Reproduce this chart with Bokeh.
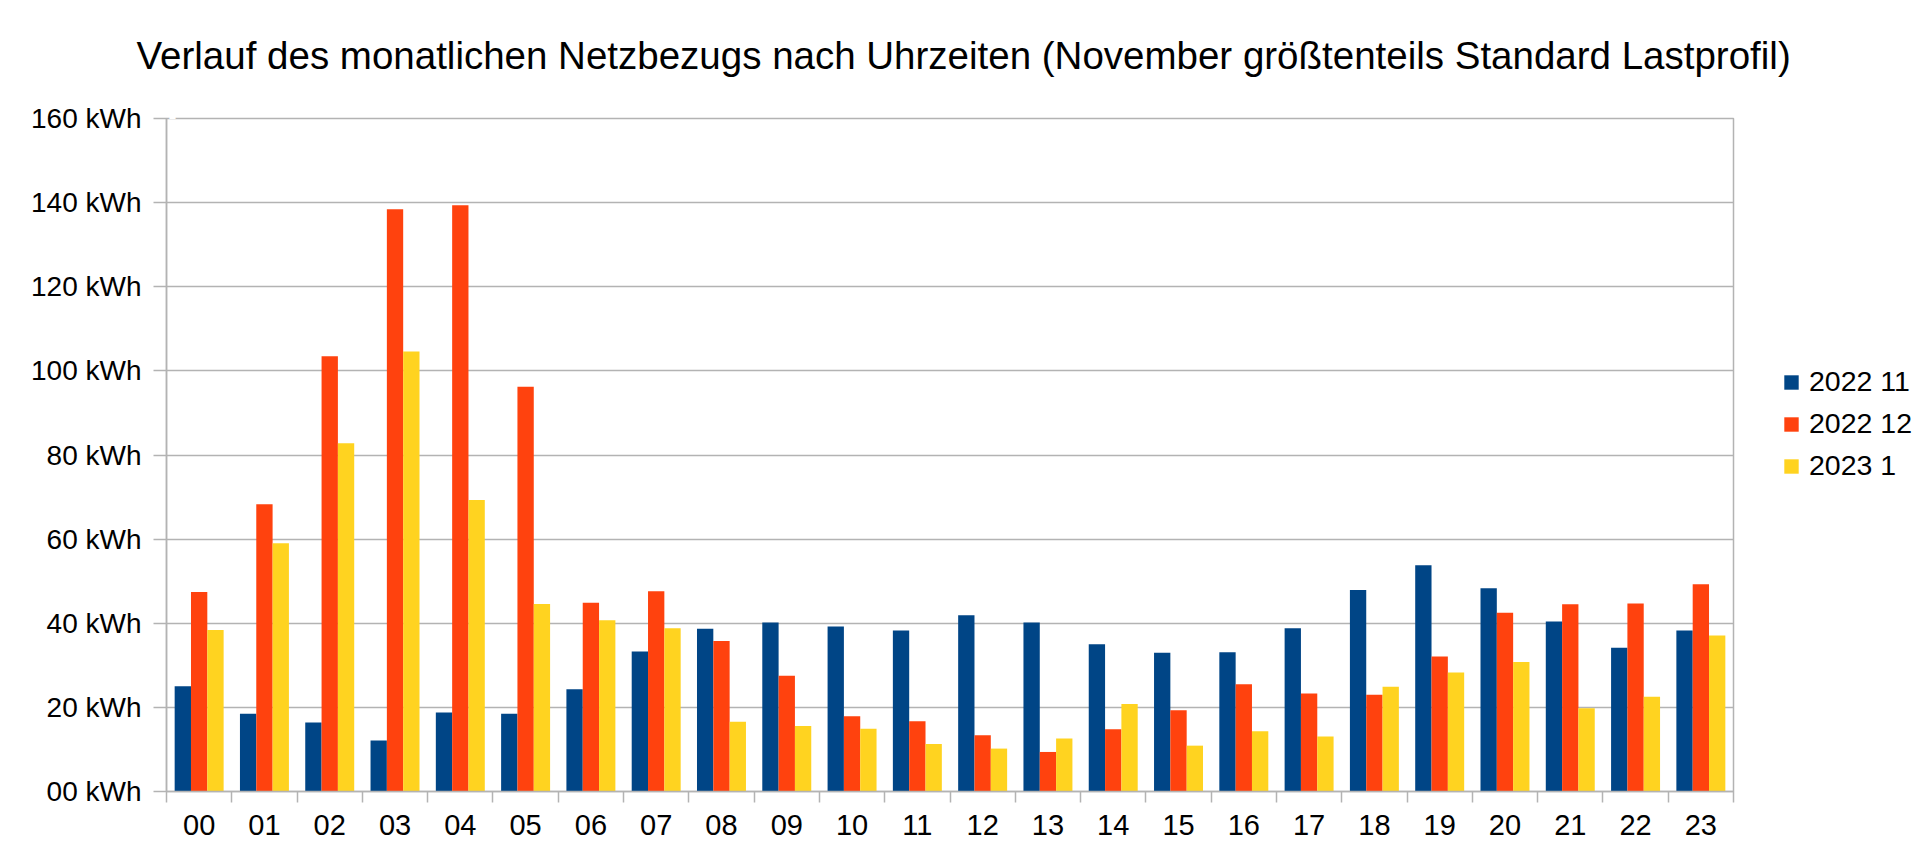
from bokeh.plotting import figure
from bokeh.models import (FixedTicker, Legend, LegendItem, Range1d, Title,
                          ColumnDataSource, CustomJSTickFormatter)
from bokeh.transform import dodge
from bokeh.embed import file_html
from bokeh.resources import INLINE

# ---------------- data ----------------
hours = ["00", "01", "02", "03", "04", "05", "06", "07", "08", "09", "10", "11",
         "12", "13", "14", "15", "16", "17", "18", "19", "20", "21", "22", "23"]
nov_2022 = [25.0, 18.5, 16.4, 12.1, 18.8, 18.5, 24.3, 33.3, 38.7, 40.2, 39.2, 38.3,
            41.9, 40.2, 35.0, 33.0, 33.1, 38.8, 47.9, 53.8, 48.3, 40.4, 34.2, 38.3]
dec_2022 = [47.4, 68.3, 103.5, 138.4, 139.4, 96.2, 44.9, 47.6, 35.8, 27.5, 17.9, 16.7,
            13.4, 9.4, 14.8, 19.3, 25.5, 23.3, 23.0, 32.1, 42.5, 44.5, 44.7, 49.3]
jan_2023 = [38.4, 59.0, 82.8, 104.6, 69.3, 44.6, 40.7, 38.8, 16.6, 15.6, 14.9, 11.3,
            10.2, 12.6, 20.8, 10.9, 14.3, 13.1, 24.9, 28.3, 30.8, 19.8, 22.5, 37.1]
series_names = ["2022 11", "2022 12", "2023 1"]
colors = ["#004586", "#ff420e", "#ffd320"]
y_ticks = [0, 20, 40, 60, 80, 100, 120, 140, 160]
y_tick_labels = ["00 kWh", "20 kWh", "40 kWh", "60 kWh", "80 kWh",
                 "100 kWh", "120 kWh", "140 kWh", "160 kWh"]
title_text = "Verlauf des monatlichen Netzbezugs nach Uhrzeiten (November größtenteils Standard Lastprofil)"

FONT = "Liberation Sans"
GRID = "#b3b3b3"

source = ColumnDataSource(data=dict(
    x=[i + 0.5 for i in range(len(hours))],
    nov=nov_2022, dec=dec_2022, jan=jan_2023,
))

p = figure(
    frame_width=1567, frame_height=673,
    min_border_left=166, min_border_right=179,
    min_border_top=118, min_border_bottom=55,
    x_range=Range1d(0, len(hours)), y_range=Range1d(0, 160),
    output_backend="svg", toolbar_location=None,
    title=None,
)
p.background_fill_color = "white"
p.border_fill_color = "white"
p.outline_line_color = GRID
p.outline_line_width = 1.5

# blank (white) spacer between title and plot frame
spacer = Title(text=".", text_font=FONT, text_font_size="43px",
               text_color="white", standoff=0)
p.add_layout(spacer, "above")
main_title = Title(text=title_text, text_font=FONT, text_font_size="38.5px",
                   text_font_style="normal", text_color="black",
                   align="left", offset=-30, standoff=22)
p.add_layout(main_title, "above")

bar_w = 0.25
renderers = []
for field, off, col in zip(["nov", "dec", "jan"], [-0.25, 0.0, 0.25], colors):
    r = p.vbar(x=dodge("x", off, range=p.x_range), top=field, width=bar_w,
               source=source, fill_color=col, line_color=None)
    renderers.append(r)

# grid
p.xgrid.grid_line_color = None
p.ygrid.grid_line_color = GRID
p.ygrid.grid_line_width = 1.5
p.ygrid.ticker = FixedTicker(ticks=y_ticks)

# y axis
ya = p.yaxis[0]
ya.ticker = FixedTicker(ticks=y_ticks)
ya.major_label_overrides = {t: l for t, l in zip(y_ticks, y_tick_labels)}
ya.axis_line_color = GRID
ya.axis_line_width = 1.5
ya.major_tick_line_color = GRID
ya.major_tick_line_width = 1.5
ya.major_tick_out = 13
ya.major_tick_in = 0
ya.minor_tick_line_color = None
ya.major_label_text_font = FONT
ya.major_label_text_font_size = "28px"
ya.major_label_text_color = "black"
ya.major_label_standoff = 12

# x axis: labels at centers, ticks at category boundaries
xa = p.xaxis[0]
xa.ticker = FixedTicker(ticks=[i + 0.5 for i in range(len(hours))],
                        minor_ticks=list(range(len(hours) + 1)))
xa.formatter = CustomJSTickFormatter(args=dict(labels=hours),
                                     code="return labels[Math.floor(tick)];")
xa.axis_line_color = GRID
xa.axis_line_width = 1.5
xa.major_tick_line_color = None
xa.major_tick_out = 0
xa.major_tick_in = 0
xa.minor_tick_line_color = GRID
xa.minor_tick_line_width = 1.5
xa.minor_tick_out = 11
xa.minor_tick_in = 0
xa.major_label_text_font = FONT
xa.major_label_text_font_size = "29px"
xa.major_label_text_color = "black"
xa.major_label_standoff = 12

legend = Legend(
    items=[LegendItem(label=n, renderers=[r]) for n, r in zip(series_names, renderers)],
    location=(49, 309),
    orientation="vertical",
)
legend.border_line_color = None
legend.background_fill_alpha = 0
legend.padding = 0
legend.margin = 0
legend.glyph_width = 18
legend.glyph_height = 18
legend.label_standoff = 9
legend.spacing = 9
legend.label_height = 32
legend.label_text_font = FONT
legend.label_text_font_size = "28.5px"
legend.label_text_color = "black"
p.add_layout(legend, "right")

open("out.html", "w").write(file_html(p, INLINE))
